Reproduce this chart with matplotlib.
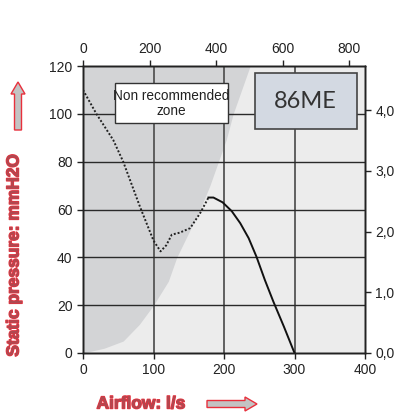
import matplotlib
matplotlib.use("Agg")
import matplotlib.pyplot as plt
import matplotlib.patheffects as pe
from matplotlib.patches import Rectangle, FancyArrow
from matplotlib.ticker import FuncFormatter

plt.rcParams['font.family'] = ['Liberation Sans', 'DejaVu Sans']

# Data (airflow l/s, static pressure mmH2O)
dotted_x = [0, 19, 43, 57, 81, 100, 110, 118, 126, 137, 152, 166, 178]
dotted_y = [110, 100, 89, 80, 61, 47, 42.5, 45, 49.5, 50.3, 52.2, 58.4, 65]
solid_x = [178, 185, 198, 211, 223, 235, 246, 258, 270, 285, 300]
solid_y = [65, 65, 63, 59.3, 54.3, 48, 40.3, 30.5, 21.5, 11, 0]
zone_y = [0, 2, 5, 12, 20, 30, 40, 60, 70, 80, 89, 100, 120]
zone_x = [0, 30, 57, 80, 100, 121, 133, 166, 180, 192, 203, 213, 237]

x_ticks = [0, 100, 200, 300, 400]
y_ticks = [0, 20, 40, 60, 80, 100, 120]
cfm_ticks = [0, 200, 400, 600, 800]
inwg_ticks = [0, 1, 2, 3, 4]
model_name = "86ME"
zone_label = "Non recommended\nzone"

fig = plt.figure(figsize=(3.97, 4.16), dpi=100)
ax = fig.add_axes([83/397, 1-353/416, 282/397, 287/416])
ax.set_facecolor('#ececec')
ax.set_xlim(0, 400)
ax.set_ylim(0, 120)

ax.fill_betweenx(zone_y, 0, zone_x, color='#d3d4d6', lw=0, zorder=1)

for v in [100, 200, 300]:
    ax.axvline(v, color='#555555', lw=1.3, zorder=2)
for v in [20, 40, 60, 80, 100]:
    ax.axhline(v, color='#2a2a2a', lw=1.0, zorder=2)

ax.plot(dotted_x, dotted_y, color='#222222', lw=1.4, ls=(0, (1, 1.0)), zorder=4)
ax.plot(solid_x, solid_y, color='#111111', lw=1.4, zorder=4)

ax.add_patch(Rectangle((45.4, 96), 160.6, 16.8, facecolor='white', edgecolor='#333333', lw=1.0, zorder=5))
ax.text(125.7, 104.4, zone_label, ha='center', va='center', fontsize=9.8, color='#222222',
        linespacing=1.05, zorder=6)
ax.add_patch(Rectangle((244, 93.5), 144, 23.4, facecolor='#d3d9e2', edgecolor='#444444', lw=1.2, zorder=5))
ax.text(316, 105.2, model_name, ha='center', va='center', fontsize=17, color='#333333',
        family=['Lato', 'DejaVu Sans'], zorder=6)

ax.set_xticks(x_ticks)
ax.set_yticks(y_ticks)
ax.tick_params(direction='out', length=4, width=1, labelsize=10, colors='#222222')
for s in ax.spines.values():
    s.set_color('#222222')
    s.set_linewidth(1.0)

axr = ax.twinx()
axr.set_ylim(0, 120/25.4)
axr.set_yticks(inwg_ticks)
axr.yaxis.set_major_formatter(FuncFormatter(lambda v, p: f"{v:.1f}".replace('.', ',')))
axr.tick_params(direction='out', length=4, width=1, labelsize=10, colors='#222222')

axt = ax.twiny()
axt.set_xlim(0, 400/0.4719474)
axt.set_xticks(cfm_ticks)
axt.tick_params(direction='out', length=4, width=1, labelsize=10, colors='#222222')
for a in (axr, axt):
    for s in a.spines.values():
        s.set_color('#222222')
        s.set_linewidth(1.0)

effects = [pe.Stroke(linewidth=1.0, foreground='#e8303c'), pe.Normal()]
fig.text(14/397, 1-255/416, "Static pressure: mmH2O", rotation=90, ha='center', va='center',
         fontsize=12.5, fontweight='bold', color='#b04850', path_effects=effects)
fig.text(141/397, 1-404/416, "Airflow: l/s", ha='center', va='center',
         fontsize=12.5, fontweight='bold', color='#b04850', path_effects=effects)

# arrows
fig.patches.append(FancyArrow(18/397, 1-130/416, 0, 48/416, width=7/397, head_width=14/397,
                              head_length=12/416, length_includes_head=True, transform=fig.transFigure,
                              facecolor='#c3c3c3', edgecolor='#e8303c', lw=1.0))
fig.patches.append(FancyArrow(207/397, 1-404/416, 50/397, 0, width=7/416, head_width=14/416,
                              head_length=12/397, length_includes_head=True, transform=fig.transFigure,
                              facecolor='#c3c3c3', edgecolor='#e8303c', lw=1.0))

fig.savefig('out.png', dpi=100)
